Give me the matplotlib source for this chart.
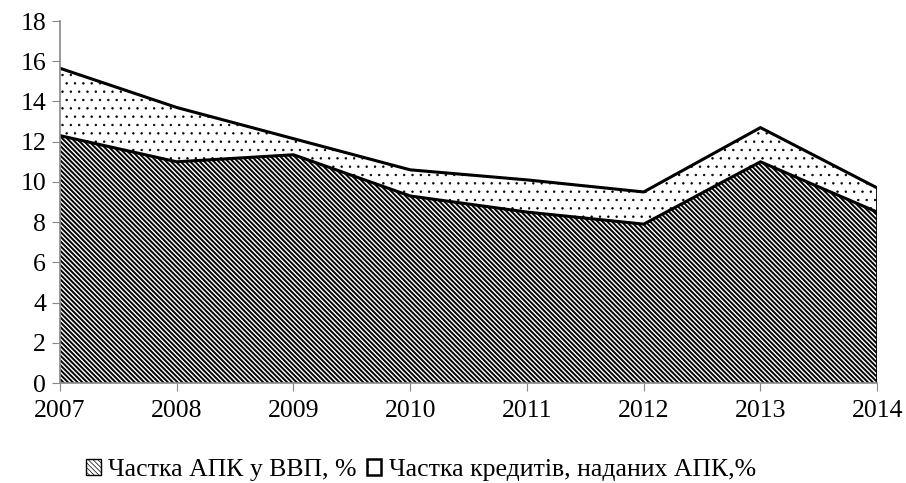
import numpy as np
import matplotlib
matplotlib.use("Agg")
import matplotlib.pyplot as plt
from matplotlib.patches import Patch

plt.rcParams['font.family'] = ['Liberation Serif', 'DejaVu Serif']

# data
years = [2007, 2008, 2009, 2010, 2011, 2012, 2013, 2014]
apk_gdp = [12.3, 11.0, 11.35, 9.3, 8.5, 7.9, 11.0, 8.5]
apk_credit = [3.35, 2.7, 0.8, 1.3, 1.6, 1.6, 1.7, 1.2]
yticks = list(range(0, 19, 2))

label_gdp = "Частка АПК у ВВП, %"
label_credit = "Частка кредитів, наданих АПК,%"

DIAG = "\\" * 7
DOTS = ".."

x = np.array(years)
low = np.array(apk_gdp)
top = low + np.array(apk_credit)

fig = plt.figure(figsize=(9.06, 4.83), dpi=100)
ax = fig.add_axes([0.0662, 0.207, 0.9020, 0.7495])

# stacked areas (hatch line width is taken from rcParams when the artist is made)
plt.rcParams['hatch.linewidth'] = 1.4
ax.fill_between(x, 0, low, facecolor="white", edgecolor="black",
                linewidth=0, hatch=DIAG)
plt.rcParams['hatch.linewidth'] = 0.5
ax.fill_between(x, low, top, facecolor="white", edgecolor="black",
                linewidth=0, hatch=DOTS)
ax.plot(x, low, color="black", lw=2.2, solid_joinstyle="round")
ax.plot(x, top, color="black", lw=2.2, solid_joinstyle="round")
ax.plot([x[-1], x[-1]], [0, top[-1]], color="black", lw=2.0)

ax.set_xlim(years[0], years[-1])
ax.set_ylim(0, 18)
ax.set_xticks(years)
ax.set_yticks(yticks)
ax.tick_params(axis="both", direction="out", length=6, color="#888888",
               labelsize=18.5, labelcolor="black", pad=4)
ax.tick_params(axis="x", pad=6)

for side in ("top", "right"):
    ax.spines[side].set_visible(False)
for side in ("left", "bottom"):
    ax.spines[side].set_color("#888888")
    ax.spines[side].set_linewidth(1.2)

plt.rcParams['hatch.linewidth'] = 1.4
h1 = Patch(facecolor="white", edgecolor="black", hatch=DIAG, linewidth=1.0)
plt.rcParams['hatch.linewidth'] = 0.5
h2 = Patch(facecolor="white", edgecolor="black", hatch=".", linewidth=1.8)
fig.legend([h1, h2], [label_gdp, label_credit], loc="center",
           bbox_to_anchor=(0.465, 0.027), ncol=2, frameon=False,
           fontsize=18.5, handlelength=0.55, handleheight=0.55,
           handletextpad=0.3, columnspacing=0.4)

fig.savefig("out.png", dpi=100)
